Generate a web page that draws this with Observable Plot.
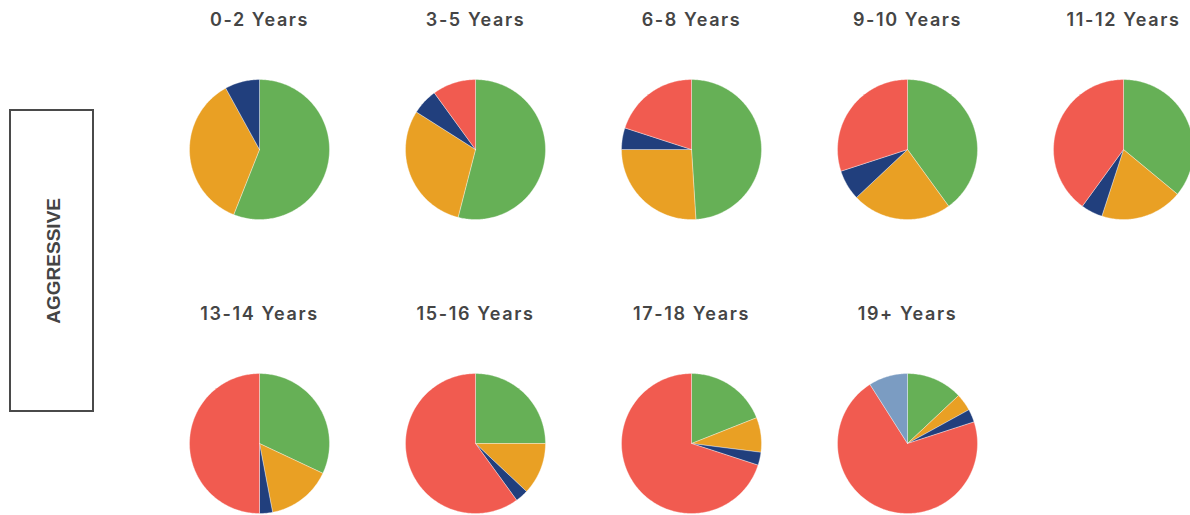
<!DOCTYPE html>
<html>
<head>
<meta charset="utf-8">
<script src="https://cdn.jsdelivr.net/npm/d3@7"></script>
<script src="https://cdn.jsdelivr.net/npm/@observablehq/plot@0.6"></script>
<style>
  html, body { margin: 0; padding: 0; background: #fff; overflow: hidden; }
  #wrap { position: relative; width: 1190px; height: 515px; overflow: hidden; }
  #box {
    position: absolute; left: 9px; top: 109px; width: 81px; height: 299px;
    border: 2px solid #4a4a4a;
    display: flex; align-items: center; justify-content: center;
    box-sizing: content-box;
  }
  #box span {
    writing-mode: vertical-rl; transform: rotate(180deg);
    font-family: "Liberation Sans", Arial, sans-serif; font-weight: bold;
    font-size: 19px; color: #444; margin-left: 3px; line-height: 1;
  }
  #chart { position: absolute; left: 0; top: 0; width: 1231px; }
  #chart svg { max-width: none !important; }
</style>
</head>
<body>
<div id="wrap">
  <div id="box"><span>AGGRESSIVE</span></div>
  <div id="chart"></div>
</div>
<script>
// Age bands (one pie each)
const periods = ["0-2 Years", "3-5 Years", "6-8 Years", "9-10 Years", "11-12 Years",
                 "13-14 Years", "15-16 Years", "17-18 Years", "19+ Years"];
// Allocation categories (clockwise from 12 o'clock)
const categories = ["U.S. Equity", "International Equity", "Real Estate", "Fixed Income", "Cash"];
const colors = ["#66b056", "#e9a024", "#213f7d", "#f15b50", "#7b9cc2"];
// Percent values per category, per age band
const usEquity      = [56, 54, 49, 40, 36, 32, 25, 19, 13];
const intlEquity    = [36, 30, 26, 23, 19, 15, 12, 8, 4];
const realEstate    = [8, 6, 5, 7, 5, 3, 3, 3, 3];
const fixedIncome   = [0, 10, 20, 30, 40, 50, 60, 70, 71];
const cash          = [0, 0, 0, 0, 0, 0, 0, 0, 9];
const seriesValues = [usEquity, intlEquity, realEstate, fixedIncome, cash];
const label = "AGGRESSIVE";

const cols = 5;
// Build slice outlines (center + arc) in unit-radius coordinates
const slicePoints = [];
periods.forEach((p, i) => {
  const total = d3.sum(seriesValues, s => s[i]);
  let start = 0;
  categories.forEach((c, k) => {
    const v = seriesValues[k][i];
    if (!v) return;
    const a0 = start / total * 2 * Math.PI;
    const a1 = (start + v) / total * 2 * Math.PI;
    start += v;
    const key = p + "|" + c;
    const base = {period: p, col: i % cols, row: Math.floor(i / cols), category: c, key};
    slicePoints.push({...base, x: 0, y: 0});
    const n = Math.max(2, Math.ceil((a1 - a0) / (Math.PI / 180)));
    for (let j = 0; j <= n; j++) {
      const a = a0 + (a1 - a0) * j / n;
      slicePoints.push({...base, x: Math.sin(a), y: Math.cos(a)});
    }
    slicePoints.push({...base, x: 0, y: 0});
  });
});
const titles = periods.map((p, i) => ({period: p, col: i % cols, row: Math.floor(i / cols)}));

const chart = Plot.plot({
  width: 1231,
  height: 588,
  marginLeft: 151,
  marginRight: 0,
  marginTop: 0,
  marginBottom: 0,
  fx: {axis: null, padding: 0, domain: d3.range(cols)},
  fy: {axis: null, padding: 0, domain: [0, 1]},
  x: {axis: null, domain: [-1.543, 1.543]},
  y: {axis: null, domain: [-2.071, 2.129]},
  color: {domain: categories, range: colors},
  style: {background: "transparent", maxWidth: "none"},
  marks: [
    Plot.line(slicePoints, {
      x: "x", y: "y", z: "key", fx: "col", fy: "row",
      fill: "category", stroke: "#ffffff", strokeWidth: 0.5, strokeOpacity: 0.7,
      curve: "linear"
    }),
    Plot.text(titles, {
      fx: "col", fy: "row", x: () => 0, y: () => 1.843, text: "period",
      fontSize: 18, fontWeight: 600, fill: "#454545",
      fontFamily: "Inter, 'Noto Sans', sans-serif"
    })
  ]
});
chart.querySelectorAll("text").forEach(t => t.setAttribute("letter-spacing", "1.6"));
chart.style.maxWidth = "none";
document.getElementById("chart").appendChild(chart);
document.querySelector("#box span").textContent = label;
</script>
</body>
</html>
